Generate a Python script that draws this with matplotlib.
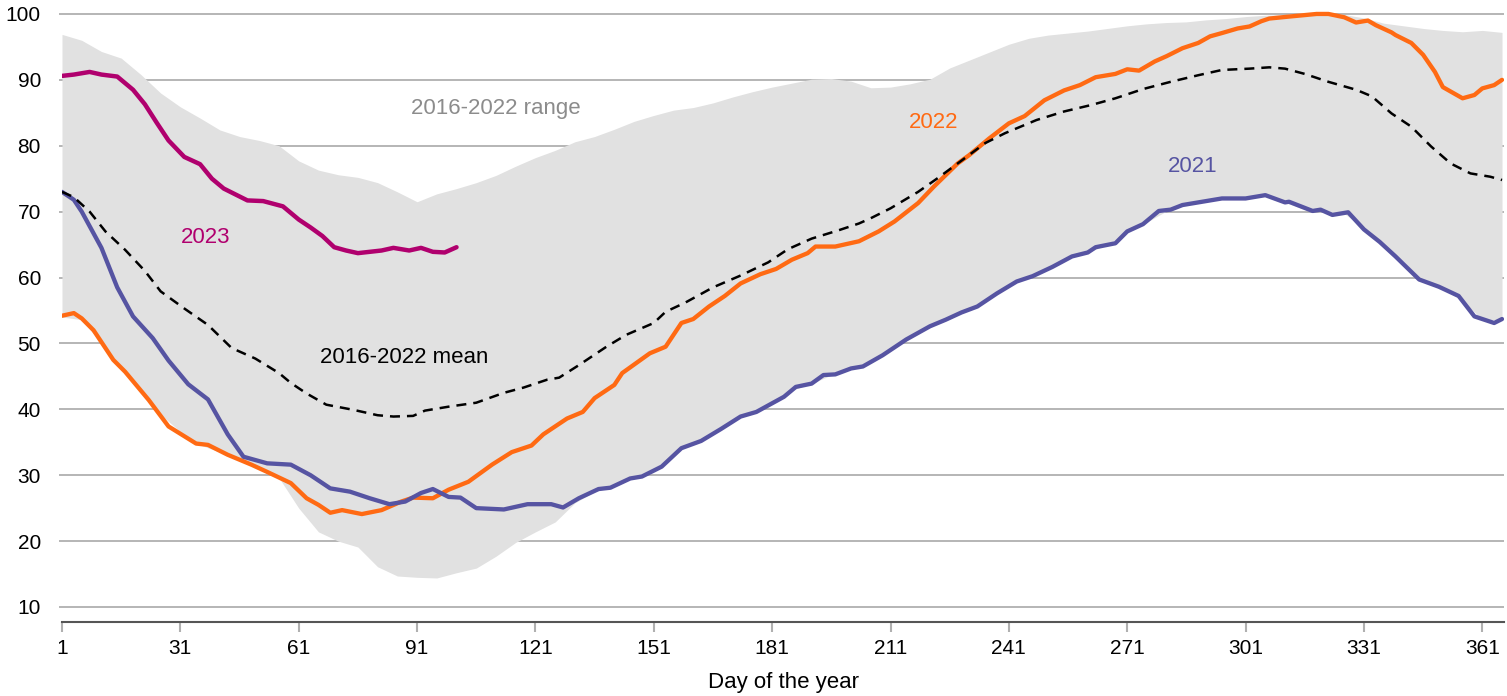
import numpy as np
import matplotlib
matplotlib.use("Agg")
import matplotlib.pyplot as plt

plt.rcParams['font.family'] = ['Liberation Sans', 'DejaVu Sans']

# 2016-2022 range, sampled every 5 days
range_days = list(range(1, 367, 5))
range_high = [96.9, 96.0, 94.3, 93.3, 90.8, 88.0, 85.9, 84.2, 82.4, 81.4,
              80.8, 80.0, 77.7, 76.3, 75.6, 75.2, 74.4, 73.0, 71.5, 72.7,
              73.5, 74.4, 75.5, 76.9, 78.2, 79.3, 80.6, 81.4, 82.5, 83.7,
              84.6, 85.4, 85.8, 86.5, 87.4, 88.2, 88.9, 89.5, 90.1, 90.2,
              89.8, 88.8, 88.9, 89.4, 90.1, 91.8, 93.0, 94.2, 95.4, 96.3,
              96.8, 97.1, 97.4, 97.8, 98.2, 98.5, 98.7, 98.8, 99.1, 99.3,
              99.6, 99.8, 99.9, 100.2, 100.3, 99.9, 99.4, 98.6, 98.2, 97.8,
              97.5, 97.3, 97.5, 97.2]
range_low = [54.0, 53.6, 50.0, 46.5, 43.0, 39.2, 36.6, 34.6, 33.5, 32.2,
             31.0, 29.6, 25.0, 21.4, 20.0, 19.1, 16.1, 14.7, 14.5, 14.4,
             15.2, 15.9, 17.7, 19.8, 21.4, 22.9, 25.8, 27.5, 28.3, 29.6,
             30.6, 33.3, 34.8, 36.4, 38.3, 39.4, 40.9, 42.9, 43.9, 45.2,
             46.2, 47.0, 48.9, 50.8, 52.5, 53.7, 55.2, 56.9, 58.8, 60.0,
             61.4, 63.0, 63.8, 65.0, 66.9, 68.4, 70.1, 71.1, 71.6, 71.9,
             72.0, 72.4, 71.4, 70.3, 69.9, 69.7, 67.5, 64.8, 62.5, 59.5,
             58.3, 56.5, 53.6, 53.6]

mean_days = [1, 4, 8, 12, 17, 22, 26, 32, 38, 44, 50, 56, 59, 63, 68, 75, 81,
             85, 90, 93, 99, 106, 113, 118, 124, 127, 132, 139, 144, 151, 154,
             159, 166, 173, 180, 185, 191, 198, 203, 206, 211, 218, 223, 228,
             235, 240, 248, 255, 262, 268, 275, 282, 289, 295, 302, 307, 311,
             316, 322, 329, 333, 338, 343, 348, 353, 358, 363, 366]
mean_vals = [73.0, 72.2, 70.0, 67.0, 64.2, 61.0, 57.9, 55.3, 52.8, 49.3, 47.7,
             45.5, 44.0, 42.4, 40.7, 39.9, 39.1, 38.9, 39.0, 39.8, 40.4, 41.0,
             42.5, 43.3, 44.5, 44.8, 46.7, 49.5, 51.3, 53.1, 54.8, 56.2, 58.5,
             60.3, 62.3, 64.3, 65.9, 67.2, 68.2, 69.0, 70.5, 73.0, 75.1, 77.3,
             80.4, 81.9, 83.9, 85.2, 86.2, 87.2, 88.6, 89.7, 90.7, 91.5, 91.7,
             91.9, 91.7, 90.9, 89.7, 88.5, 87.5, 84.9, 82.9, 79.9, 77.3, 75.8,
             75.3, 74.8]

days_2021 = [1, 4, 6, 11, 15, 19, 24, 28, 33, 38, 43, 47, 53, 59, 64, 69, 74,
             79, 84, 88, 92, 95, 99, 102, 106, 113, 119, 125, 128, 132, 137,
             140, 145, 148, 153, 158, 163, 168, 173, 177, 184, 187, 191, 194,
             197, 201, 204, 209, 215, 221, 225, 229, 233, 238, 243, 247, 252,
             257, 261, 263, 268, 271, 275, 279, 282, 285, 288, 295, 301, 306,
             311, 312, 318, 320, 323, 327, 331, 335, 339, 345, 350, 355, 359,
             364, 366]
vals_2021 = [73.0, 71.8, 70.0, 64.5, 58.5, 54.1, 50.8, 47.4, 43.8, 41.5, 36.2,
             32.8, 31.8, 31.6, 30.0, 28.0, 27.5, 26.5, 25.6, 26.0, 27.3, 27.9,
             26.7, 26.6, 25.0, 24.8, 25.6, 25.6, 25.1, 26.5, 27.9, 28.1, 29.5,
             29.8, 31.3, 34.1, 35.2, 37.0, 38.9, 39.6, 41.9, 43.4, 43.9, 45.2,
             45.3, 46.2, 46.5, 48.2, 50.6, 52.6, 53.6, 54.7, 55.6, 57.6, 59.4,
             60.2, 61.6, 63.2, 63.8, 64.6, 65.2, 67.0, 68.1, 70.1, 70.3, 71.0,
             71.3, 72.0, 72.0, 72.5, 71.4, 71.5, 70.1, 70.3, 69.5, 69.9, 67.3,
             65.4, 63.2, 59.7, 58.6, 57.2, 54.1, 53.1, 53.7]

days_2022 = [1, 4, 6, 9, 14, 17, 23, 28, 35, 38, 43, 49, 53, 59, 63, 66, 69,
             72, 77, 82, 87, 90, 95, 99, 104, 110, 115, 120, 123, 129, 133,
             136, 141, 143, 150, 154, 158, 161, 165, 169, 173, 178, 182, 186,
             190, 192, 197, 200, 203, 208, 212, 218, 222, 228, 231, 236, 241,
             245, 250, 255, 259, 263, 268, 271, 274, 278, 281, 285, 289, 292,
             295, 299, 302, 305, 307, 312, 319, 322, 326, 329, 332, 334, 338,
             339, 343, 346, 349, 351, 356, 359, 361, 364, 366]
vals_2022 = [54.2, 54.6, 53.8, 52.0, 47.5, 45.7, 41.4, 37.4, 34.8, 34.6, 33.1,
             31.6, 30.5, 28.8, 26.5, 25.5, 24.3, 24.7, 24.1, 24.7, 26.0, 26.6,
             26.5, 27.8, 29.0, 31.6, 33.5, 34.5, 36.2, 38.6, 39.6, 41.7, 43.7,
             45.5, 48.5, 49.5, 53.1, 53.7, 55.6, 57.2, 59.1, 60.5, 61.3, 62.7,
             63.7, 64.7, 64.7, 65.1, 65.5, 67.0, 68.5, 71.3, 73.8, 77.3, 78.6,
             81.1, 83.4, 84.5, 86.9, 88.4, 89.2, 90.4, 90.9, 91.6, 91.4, 92.8,
             93.6, 94.8, 95.6, 96.6, 97.1, 97.8, 98.1, 98.9, 99.3, 99.6, 100.0,
             100.0, 99.5, 98.7, 99.0, 98.3, 97.2, 96.8, 95.6, 93.8, 91.2, 88.9,
             87.2, 87.7, 88.7, 89.2, 90.0]

days_2023 = [1, 4, 8, 11, 15, 19, 22, 25, 28, 32, 36, 39, 42, 45, 48, 52, 57,
             61, 64, 67, 70, 73, 76, 79, 82, 85, 89, 92, 95, 98, 101]
vals_2023 = [90.6, 90.8, 91.2, 90.8, 90.5, 88.5, 86.3, 83.5, 80.8, 78.3, 77.2,
             75.0, 73.5, 72.6, 71.7, 71.6, 70.8, 68.8, 67.6, 66.3, 64.6, 64.1,
             63.7, 63.9, 64.1, 64.5, 64.1, 64.5, 63.9, 63.8, 64.6]

x_ticks = list(range(1, 362, 30))
y_ticks = list(range(10, 101, 10))

c_range = '#e1e1e1'
c_2021 = '#5654a2'
c_2022 = '#ff6a13'
c_2023 = '#b0006e'
c_grid = '#b0b0b0'

fig = plt.figure(figsize=(15.07, 6.96), dpi=100)
ax = fig.add_axes([62 / 1507, 74 / 696, (1504 - 62) / 1507, (686 - 74) / 696])

ax.set_axisbelow(True)
ax.grid(axis='y', color=c_grid, linewidth=1.3)
ax.fill_between(range_days, range_low, range_high, color=c_range, linewidth=0, zorder=1)
ax.plot(days_2022, vals_2022, color=c_2022, lw=3.1, zorder=3, solid_capstyle='round')
ax.plot(days_2021, vals_2021, color=c_2021, lw=3.1, zorder=4, solid_capstyle='round')
ax.plot(mean_days, mean_vals, color='black', lw=1.8, ls=(0, (4, 2.8)), zorder=5)
ax.plot(days_2023, vals_2023, color=c_2023, lw=3.2, zorder=6, solid_capstyle='round')

lab = dict(fontsize=16, ha='center', va='center')
ax.text(111, 85.7, '2016-2022 range', color='#8c8c8c', **lab)
ax.text(87.7, 47.9, '2016-2022 mean', color='black', **lab)
ax.text(37.5, 66.0, '2023', color=c_2023, **lab)
ax.text(222, 83.5, '2022', color=c_2022, **lab)
ax.text(287.5, 76.8, '2021', color=c_2021, **lab)

ax.set_xlim(1, 366.5)
ax.set_ylim(7.72, 100.6)
ax.set_xticks(x_ticks)
ax.set_yticks(y_ticks)
ax.tick_params(axis='x', colors=c_grid, length=7.5, width=1.5, labelcolor='black',
               labelsize=15, pad=5)
ax.tick_params(axis='y', colors=c_grid, length=2.2, width=1.3, labelcolor='black',
               labelsize=15, pad=13)
for s in ['top', 'right', 'left']:
    ax.spines[s].set_visible(False)
ax.spines['bottom'].set_color('#555555')
ax.spines['bottom'].set_linewidth(1.5)
ax.set_xlabel('Day of the year', fontsize=16, labelpad=10)

fig.savefig('out.png', dpi=100)
